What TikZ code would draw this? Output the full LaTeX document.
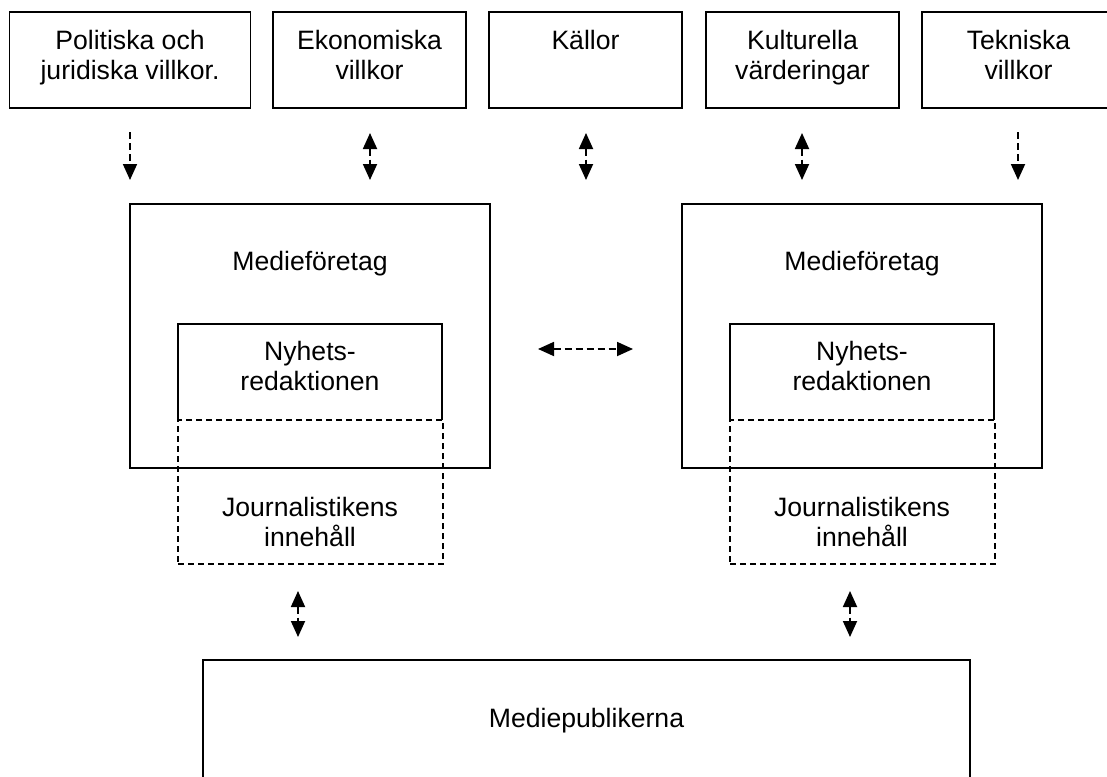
\documentclass[tikz,border=0pt]{standalone}
\usepackage{fontspec}
\setmainfont{Liberation Sans}
\usetikzlibrary{arrows.meta}
\begin{document}
\begin{tikzpicture}[x=1pt,y=-1pt,
  box/.style={draw, line width=1.6pt, inner sep=0pt},
  hidebox/.style={inner sep=0pt},
  dbox/.style={draw, line width=1.5pt, dash pattern=on 6pt off 4pt, inner sep=0pt},
  txt/.style={font=\fontsize{26.6}{30}\selectfont, align=center, inner sep=0pt, anchor=base},
  arr/.style={line width=1.8pt, dash pattern=on 7pt off 4pt, -{Triangle[width=14pt,length=16pt]}},
  arrs/.style={line width=1.8pt, dash pattern=on 7pt off 4pt, {Triangle[width=14pt,length=16pt]}-{Triangle[width=14pt,length=16pt]}}]
\useasboundingbox (0,0) rectangle (1107,776);
% top boxes
\node[box, minimum width=241pt, minimum height=96pt] (pol) at (130,60) {};
\node[box, minimum width=193pt, minimum height=96pt] (eko) at (369.5,60) {};
\node[box, minimum width=193pt, minimum height=96pt] (kal) at (585.5,60) {};
\node[box, minimum width=193pt, minimum height=96pt] (kul) at (802.5,60) {};
\node[box, minimum width=193pt, minimum height=96pt] (tek) at (1018.5,60) {};
\node[txt] (polt) at (130,79) {Politiska och\\juridiska villkor.};
\node[txt] (ekot) at (369.5,79) {Ekonomiska\\villkor};
\node[txt] (kalt) at (585.5,49) {Källor};
\node[txt] (kult) at (802.5,79) {Kulturella\\värderingar};
\node[txt] (tekt) at (1018.5,79) {Tekniska\\villkor};
% top arrows
\coordinate (a1s) at (130,132); \coordinate (a1e) at (130,180);
\coordinate (a2s) at (370,133); \coordinate (a2e) at (370,180);
\coordinate (a3s) at (586,133); \coordinate (a3e) at (586,180);
\coordinate (a4s) at (802,133); \coordinate (a4e) at (802,180);
\coordinate (a5s) at (1018,132); \coordinate (a5e) at (1018,180);
\draw[arr] (a1s) -- (a1e);
\draw[arrs] (a2s) -- (a2e);
\draw[arrs] (a3s) -- (a3e);
\draw[arrs] (a4s) -- (a4e);
\draw[arr] (a5s) -- (a5e);
% media companies
\node[box, minimum width=360pt, minimum height=264pt] (mfl) at (310,336) {};
\node[box, minimum width=360pt, minimum height=264pt] (mfr) at (862,336) {};
\node[txt] (mflt) at (310,270) {Medieföretag};
\node[txt] (mfrt) at (862,270) {Medieföretag};
\node[hidebox, minimum width=264pt, minimum height=96pt] (nyl) at (310,372) {};
\node[hidebox, minimum width=264pt, minimum height=96pt] (nyr) at (862,372) {};
\draw[line width=1.6pt] (nyl.south west) |- (nyl.north east) -- (nyl.south east);
\draw[line width=1.6pt] (nyr.south west) |- (nyr.north east) -- (nyr.south east);
\node[txt] (nylt) at (310,390) {Nyhets-\\redaktionen};
\node[txt] (nyrt) at (862,390) {Nyhets-\\redaktionen};
\node[dbox, minimum width=265pt, minimum height=144pt] (jil) at (310.5,492) {};
\node[dbox, minimum width=265pt, minimum height=144pt] (jir) at (862.5,492) {};
\node[txt] (jilt) at (310,546) {Journalistikens\\innehåll};
\node[txt] (jirt) at (862,546) {Journalistikens\\innehåll};
% middle arrow
\coordinate (hs) at (538,349); \coordinate (he) at (633,349);
\draw[arrs] (hs) -- (he);
% lower arrows
\coordinate (l1s) at (298,591); \coordinate (l1e) at (298,637);
\coordinate (l2s) at (850,591); \coordinate (l2e) at (850,637);
\draw[arrs] (l1s) -- (l1e);
\draw[arrs] (l2s) -- (l2e);
% audience
\node[box, minimum width=767pt, minimum height=160pt] (pub) at (586.5,740) {};
\node[txt] (pubt) at (586.5,727) {Mediepublikerna};
\end{tikzpicture}
\end{document}
